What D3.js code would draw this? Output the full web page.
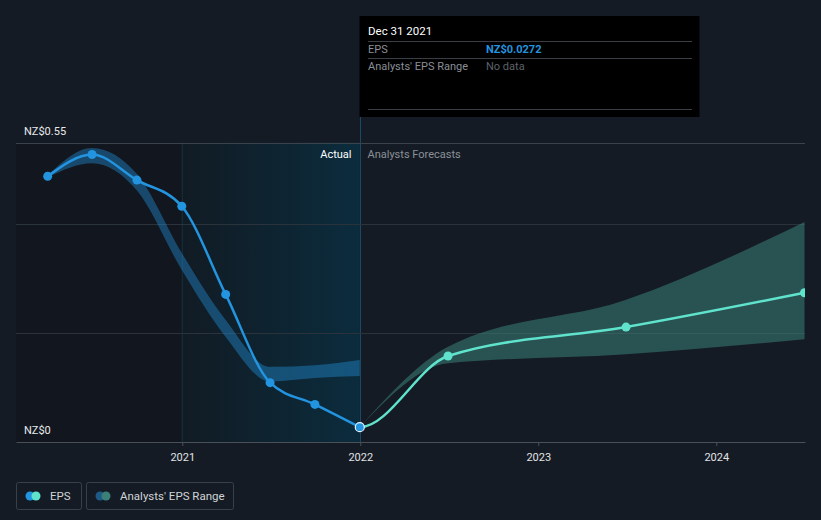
<!DOCTYPE html>
<html><head><meta charset="utf-8">
<script src="https://cdn.jsdelivr.net/npm/d3@7"></script>
<style>
html,body{margin:0;padding:0;background:#151b24;}
svg{display:block;font-family:Roboto,"Noto Sans",sans-serif;}
</style></head>
<body><svg id="c" width="821" height="520"></svg>
<script>
// ---- data ----
const pastDates = ["2020-03-31","2020-06-30","2020-09-30","2020-12-31","2021-03-31","2021-06-30","2021-09-30","2021-12-31"];
const pastEps = [0.488,0.528,0.481,0.433,0.271,0.109,0.069,0.0272];
const pastRangeLow = [0.486,0.512,0.462,0.316,0.193,0.111,0.1175,0.121];
const pastRangeHigh = [0.490,0.540,0.492,0.347,0.224,0.138,0.141,0.1506];
const forecastDates = ["2021-12-31","2022-06-30","2023-06-30","2024-06-30"];
const forecastEps = [0.0272,0.158,0.211,0.274];
const forecastLow = [0.0272,0.1445,0.161,0.1886];
const forecastHigh = [0.0272,0.175,0.261,0.404];
const yTickValues = [0, 0.2, 0.4, 0.55];
const yLabelValues = [0, 0.55];
const xTickYears = [2021, 2022, 2023, 2024];
const tooltipDate = "Dec 31 2021";
const tooltipEps = "NZ$0.0272";

const parse = d3.timeParse("%Y-%m-%d");
const past = pastDates.map((d,i)=>({date:parse(d), eps:pastEps[i], lo:pastRangeLow[i], hi:pastRangeHigh[i]}));
const fc = forecastDates.map((d,i)=>({date:parse(d), eps:forecastEps[i], lo:forecastLow[i], hi:forecastHigh[i]}));

const svg = d3.select("#c");
const L = 16, R = 805, T = 142.5, B = 442;
const x = d3.scaleTime().domain([new Date(2020,0,26), new Date(2024,6,1)]).range([L, R]);
const y = d3.scaleLinear().domain([0, 0.55]).range([B, T]);

const lastActual = parse("2021-12-31");
const yearStart = new Date(2021,0,1);

const defs = svg.append("defs");
const grad = defs.append("linearGradient").attr("id","hl").attr("x1","0").attr("x2","1").attr("y1","0").attr("y2","0");
grad.append("stop").attr("offset","0").attr("stop-color","#111b24");
grad.append("stop").attr("offset","1").attr("stop-color","#0b2c3d");
defs.append("clipPath").attr("id","clip").append("rect").attr("x",L).attr("y",0).attr("width",R-L).attr("height",B);
defs.append("clipPath").attr("id","clipF").append("rect").attr("x",x(lastActual)).attr("y",0).attr("width",R-x(lastActual)).attr("height",B);

// background regions
svg.append("rect").attr("x",x.range()[0]).attr("y",T).attr("width",x(yearStart)-x.range()[0]).attr("height",B-T).attr("fill","#12171f");
svg.append("rect").attr("x",x(yearStart)).attr("y",T).attr("width",x(lastActual)-x(yearStart)).attr("height",B-T).attr("fill","url(#hl)");
svg.append("line").attr("x1",x(yearStart)).attr("x2",x(yearStart)).attr("y1",T).attr("y2",B).attr("stroke","#133142").attr("stroke-width",1);

// gridlines
svg.append("g").selectAll("line").data(yTickValues.filter(v=>v>0)).join("line")
  .attr("x1",L).attr("x2",R).attr("y1",d=>Math.round(y(d))+0.5).attr("y2",d=>Math.round(y(d))+0.5)
  .attr("stroke",d=>d===0.55?"#3b424b":"#2a323b").attr("stroke-width",1);

// y labels
svg.append("g").selectAll("text").data(yLabelValues).join("text")
  .attr("x",24).attr("y",d=>y(d)-8).attr("fill","#e8eaec").attr("font-size",11)
  .text(d=>"NZ$"+(d===0?"0":d3.format(".2f")(d)));

// x axis
const xAxis = d3.axisBottom(x).tickValues(xTickYears.map(yr=>new Date(yr,0,1))).tickFormat(d3.timeFormat("%Y")).tickSize(4).tickSizeOuter(0);
const gx = svg.append("g").attr("transform",`translate(0,${B})`).call(xAxis);
gx.select(".domain").attr("stroke","#4a5058");
gx.selectAll(".tick line").attr("stroke","#4a5058");
gx.selectAll(".tick text").attr("fill","#e0e2e4").attr("font-size",11).attr("dy","1.1em").attr("font-family","Roboto,sans-serif");

const g = svg.append("g").attr("clip-path","url(#clip)");
const gf = svg.append("g").attr("clip-path","url(#clipF)");
const gp = svg.append("g").attr("clip-path","url(#clip)");

// the forecast curve continues the actual series so its tangent at the joint is smooth
const prevActual = past[past.length-2];
const fcCurve = [{date:prevActual.date, eps:prevActual.eps, lo:prevActual.eps, hi:prevActual.eps}].concat(fc);

// past range band
const area = d3.area().x(d=>x(d.date)).y0(d=>y(d.lo)).y1(d=>y(d.hi)).curve(d3.curveMonotoneX);
g.append("path").datum(past).attr("d",area).attr("fill","#2394df").attr("opacity",0.4);
// forecast range band
gf.append("path").datum(fc).attr("d",area).attr("fill","#3b7f79").attr("opacity",0.55);

// lines
const line = d3.line().x(d=>x(d.date)).y(d=>y(d.eps)).curve(d3.curveMonotoneX);
g.append("path").datum(past).attr("d",line).attr("fill","none").attr("stroke","#2394df").attr("stroke-width",2.5);
gf.append("path").datum(fcCurve).attr("d",line).attr("fill","none").attr("stroke","#5fe3cc").attr("stroke-width",2.5);

// points
gp.append("g").selectAll("circle").data(fc.slice(1)).join("circle")
  .attr("cx",d=>x(d.date)).attr("cy",d=>y(d.eps)).attr("r",4.5).attr("fill","#5fe3cc");
gp.append("g").selectAll("circle").data(past).join("circle")
  .attr("cx",d=>x(d.date)).attr("cy",d=>y(d.eps)).attr("r",4.5)
  .attr("fill","#2394df")
  .attr("stroke",d=>+d.date===+lastActual?"#e8f4ff":"none").attr("stroke-width",1.2);

// vertical marker line
const vx = Math.round(x(lastActual))+0.5;
svg.insert("line","g").attr("x1",vx).attr("x2",vx).attr("y1",16).attr("y2",B).attr("stroke","#1a4a63").attr("stroke-width",1);

// actual / forecast labels
svg.append("text").attr("x",vx-9).attr("y",158).attr("text-anchor","end").attr("fill","#ffffff").attr("font-size",11).text("Actual");
svg.append("text").attr("x",vx+7).attr("y",158).attr("fill","#8a9097").attr("font-size",11).text("Analysts Forecasts");

// tooltip
const tt = svg.append("g");
tt.append("rect").attr("x",vx-1).attr("y",16).attr("width",340).attr("height",101).attr("fill","#000");
tt.append("text").attr("x",368).attr("y",35).attr("fill","#fff").attr("font-size",11.5).text(tooltipDate);
[41.5,58.5,109.5].forEach(yy=>tt.append("line").attr("x1",368).attr("x2",692).attr("y1",yy).attr("y2",yy).attr("stroke","#3a3f45"));
tt.append("text").attr("x",368).attr("y",52.5).attr("fill","#8a8f95").attr("font-size",11).text("EPS");
tt.append("text").attr("x",486).attr("y",52.5).attr("fill","#2394df").attr("font-size",11).attr("font-weight","bold").text(tooltipEps);
tt.append("text").attr("x",368).attr("y",70).attr("fill","#8a8f95").attr("font-size",11).text("Analysts' EPS Range");
tt.append("text").attr("x",486).attr("y",70).attr("fill","#5d6268").attr("font-size",11).text("No data");

// legend
const legend = [
  {label:"EPS", c1:"#2394df", c2:"#5fe3cc", x:16.5, w:65},
  {label:"Analysts' EPS Range", c1:"#1d5a85", c2:"#3b7f79", x:86.5, w:147}
];
const lg = svg.append("g").selectAll("g").data(legend).join("g");
lg.append("rect").attr("x",d=>d.x).attr("y",482.5).attr("width",d=>d.w).attr("height",27).attr("rx",2)
  .attr("fill","none").attr("stroke","#3a4049");
lg.append("circle").attr("cx",d=>d.x+13.5).attr("cy",496).attr("r",4.5).attr("fill",d=>d.c1);
lg.append("circle").attr("cx",d=>d.x+19.5).attr("cy",496).attr("r",4.5).attr("fill",d=>d.c2);
lg.append("text").attr("x",d=>d.x+33.5).attr("y",500).attr("fill","#d0d3d6").attr("font-size",11.5).text(d=>d.label);
</script></body></html>
